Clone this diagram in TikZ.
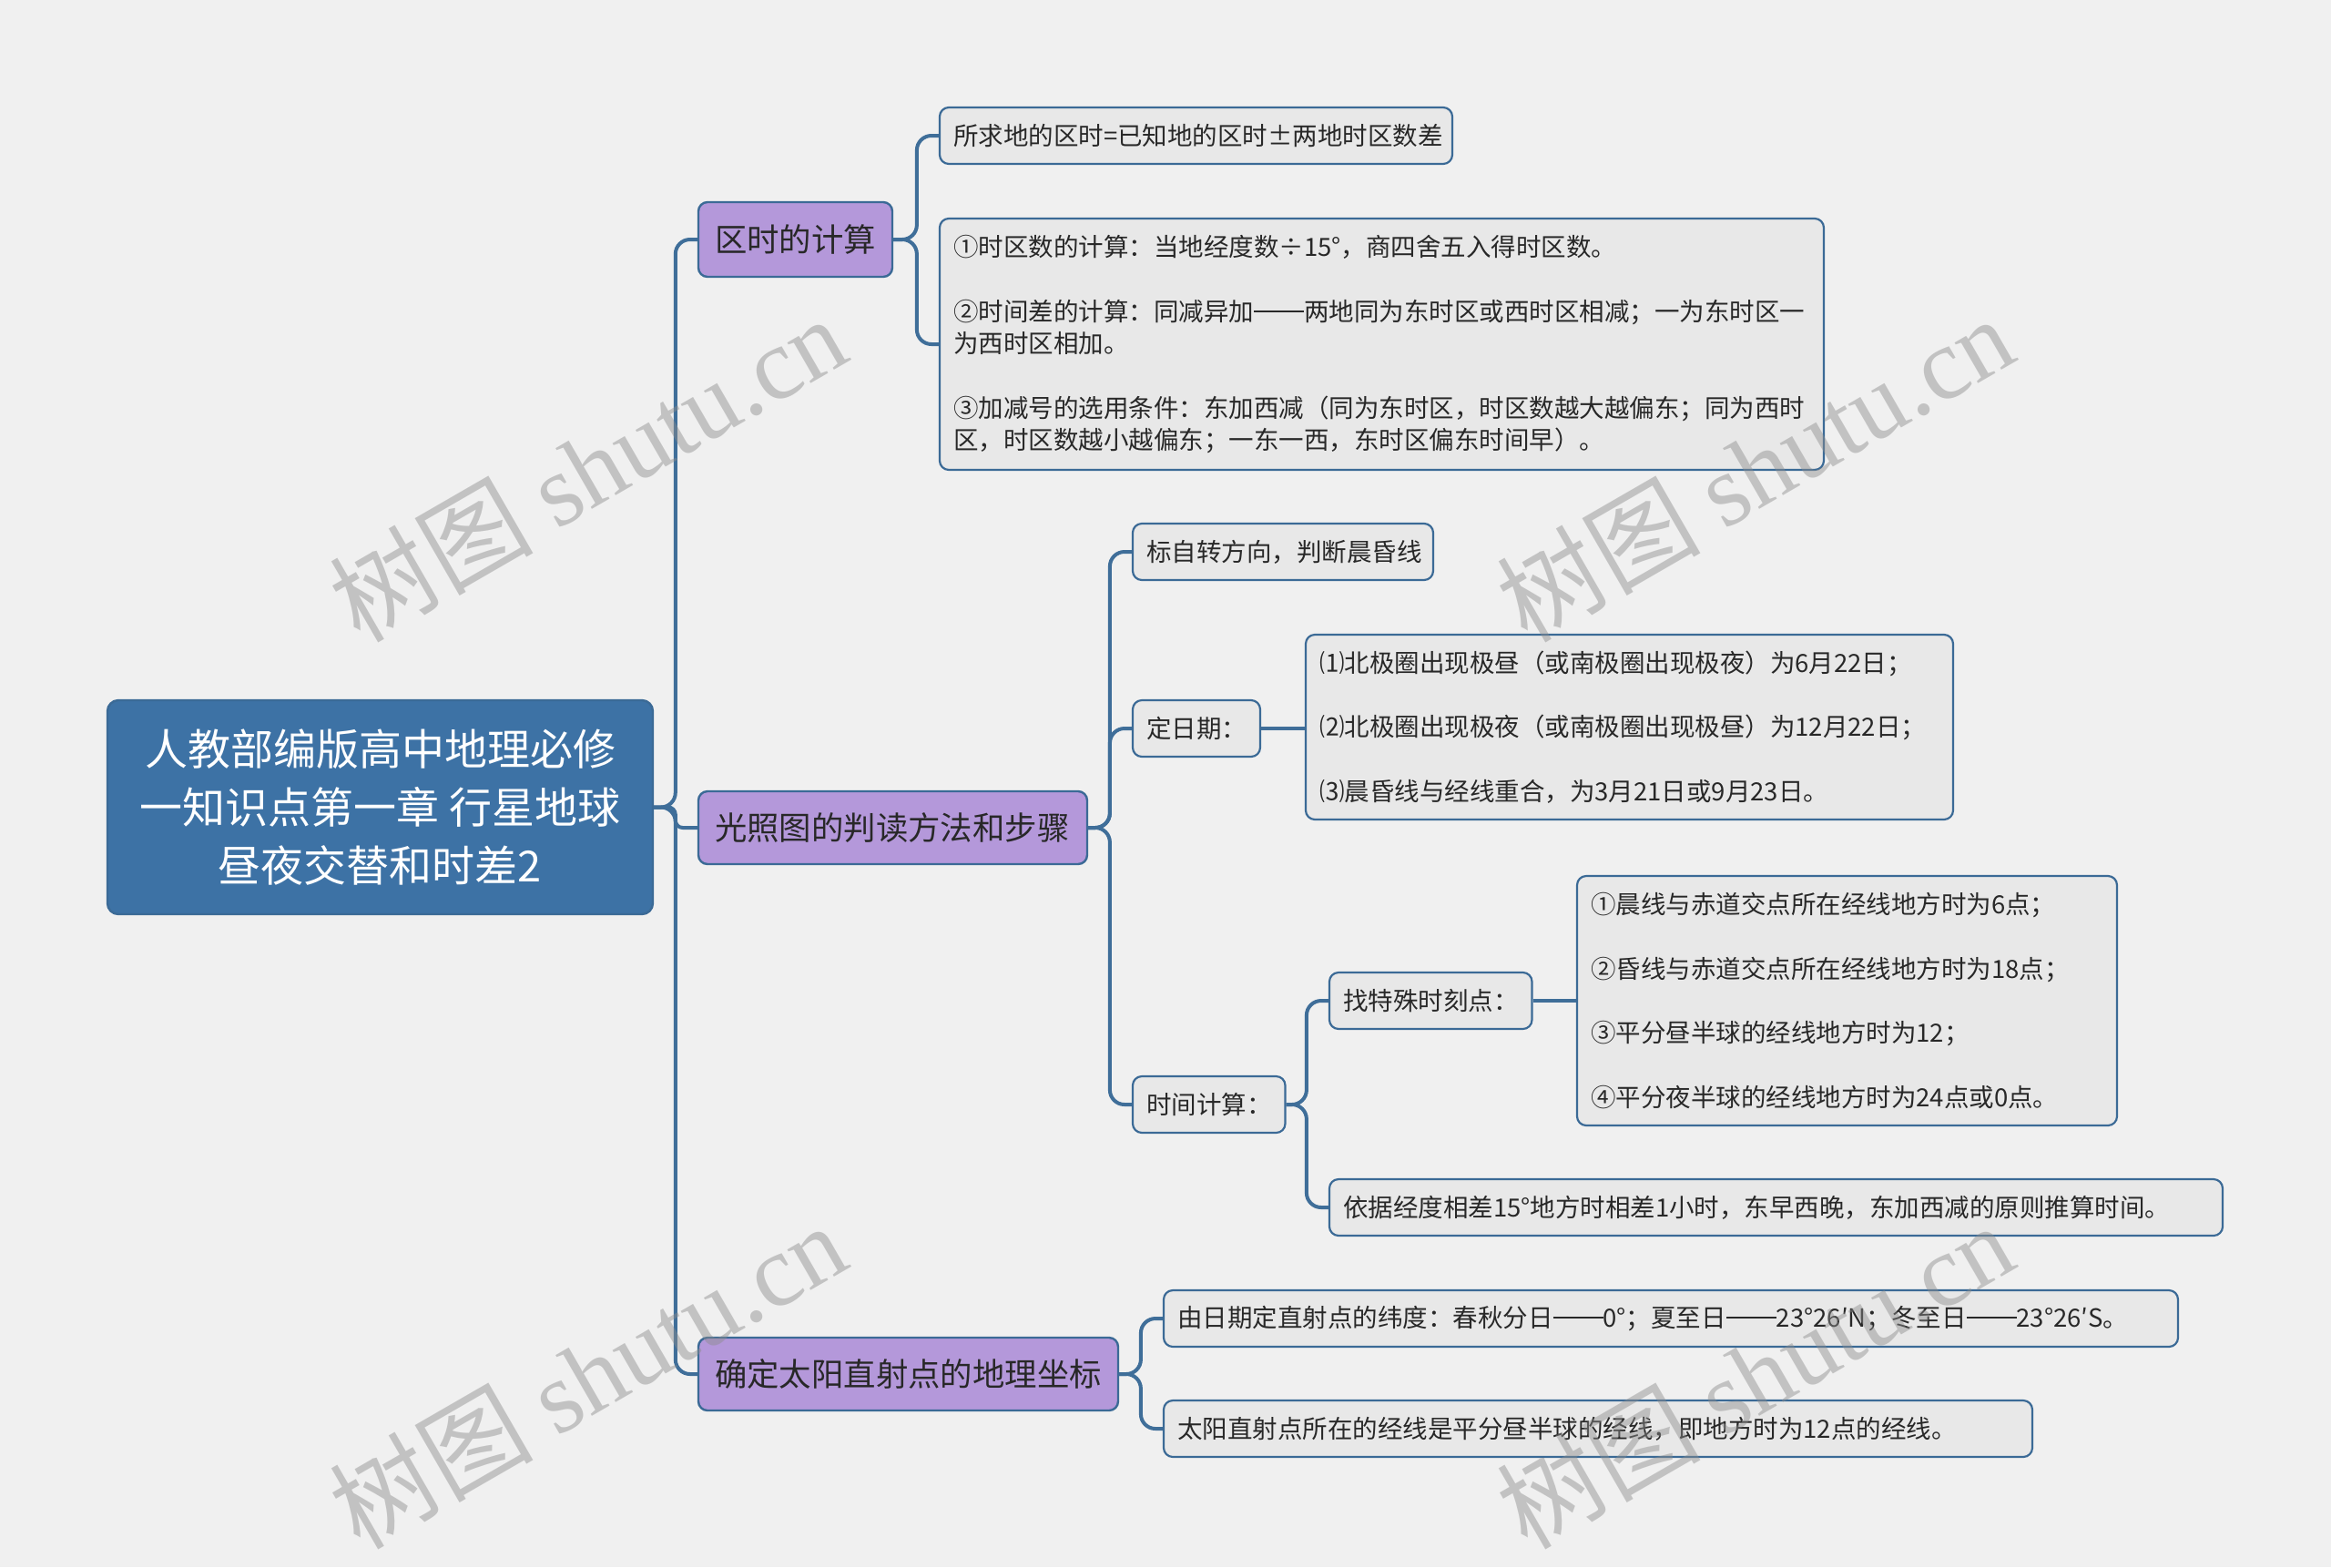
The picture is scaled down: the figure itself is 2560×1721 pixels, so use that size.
\documentclass[tikz,border=0pt]{standalone}
\usepackage{fontspec}
\setmainfont{Noto Sans CJK SC}
\newfontfamily\wmlatin{Liberation Serif}
\newcommand{\ldash}{\rule[0.34em]{2em}{0.06em}}
\definecolor{bgc}{RGB}{240,240,240}
\definecolor{rootc}{RGB}{61,114,165}
\definecolor{purp}{RGB}{180,152,218}
\definecolor{bordc}{RGB}{59,106,150}
\definecolor{linec}{RGB}{63,110,153}
\definecolor{leafc}{RGB}{232,232,232}
\definecolor{txtc}{RGB}{40,40,40}
\definecolor{wmc}{RGB}{140,140,140}
\tikzset{
  rootbox/.style={draw=bordc, line width=1.2pt, fill=rootc, rounded corners=6pt,
    text=white, font=\fontsize{23.5}{32}\selectfont, align=center, inner sep=0pt,
    minimum width=299.5pt, minimum height=117.5pt},
  lonebox/.style={draw=bordc, line width=1.2pt, fill=purp, rounded corners=5pt,
    text=txtc, font=\fontsize{17.7}{22}\selectfont, align=left, inner xsep=9pt, inner ysep=0pt,
    minimum height=40pt},
  leafbox/.style={draw=bordc, line width=1.1pt, fill=leafc, rounded corners=5pt,
    text=txtc, font=\fontsize{13.75}{17.65}\selectfont, align=left, inner xsep=7.5pt, inner ysep=0pt,
    minimum height=31pt},
  conn/.style={draw=linec, line width=2pt, rounded corners=8pt},
  wmark/.style={text=wmc, text opacity=0.45, font=\fontsize{56}{60}\selectfont, rotate=30}
}
\begin{document}
\begin{tikzpicture}[x=0.5pt,y=-0.5pt]
\fill[bgc] (0,0) rectangle (2560,1721);
\useasboundingbox (0,0) rectangle (2560,1721);

% root
\node[rootbox] (root) at (417.5,886.5) {人教部编版高中地理必修\\一知识点第一章 行星地球\\昼夜交替和时差2};

% level 1
\node[lonebox, text width=88.5pt, minimum height=41pt] (la) at (873.5,263) {区时的计算};
\node[lonebox, text width=195.5pt] (lb) at (980.5,909) {光照图的判读方法和步骤};
\node[lonebox, text width=212.5pt] (lc) at (997.5,1509) {确定太阳直射点的地理坐标};

% branch A
\node[leafbox, text width=266.5pt] (a1) at (1313.5,149) {所求地的区时=已知地的区时±两地时区数差};
\node[leafbox, text width=470.5pt, minimum height=138pt] (a2) at (1517.5,378) {①时区数的计算：当地经度数÷15°，商四舍五入得时区数。\\[17.65pt]②时间差的计算：同减异加\ldash 两地同为东时区或西时区相减；一为东时区一\\为西时区相加。\\[17.65pt]③加减号的选用条件：东加西减（同为东时区，时区数越大越偏东；同为西时\\区，时区数越小越偏东；一东一西，东时区偏东时间早）。};

% branch B
\node[leafbox, text width=150pt] (b1) at (1409,606) {标自转方向，判断晨昏线};
\node[leafbox, text width=55pt] (b2) at (1314,800) {定日期：};
\node[leafbox, text width=68.75pt] (b3) at (1327.75,1213) {时间计算：};
\node[leafbox, text width=340.5pt, minimum height=101.5pt] (c1) at (1789.5,798.5) {⑴北极圈出现极昼（或南极圈出现极夜）为6月22日；\\[17.65pt]⑵北极圈出现极夜（或南极圈出现极昼）为12月22日；\\[17.65pt]⑶晨昏线与经线重合，为3月21日或9月23日。};
\node[leafbox, text width=96.25pt] (d1) at (1571.25,1099) {找特殊时刻点：};
\node[leafbox, text width=475.5pt] (d2) at (1950.5,1326) {依据经度相差15°地方时相差1小时，东早西晚，东加西减的原则推算时间。};
\node[leafbox, text width=281.5pt, minimum height=137pt] (e1) at (2028.5,1099) {①晨线与赤道交点所在经线地方时为6点；\\[17.65pt]②昏线与赤道交点所在经线地方时为18点；\\[17.65pt]③平分昼半球的经线地方时为12；\\[17.65pt]④平分夜半球的经线地方时为24点或0点。};

% branch C
\node[leafbox, text width=542pt] (f1) at (1835,1448) {由日期定直射点的纬度：春秋分日\ldash 0°；夏至日\ldash 23°26′N；冬至日\ldash 23°26′S。};
\node[leafbox, text width=462pt] (f2) at (1755,1569) {太阳直射点所在的经线是平分昼半球的经线，即地方时为12点的经线。};

% connectors
\draw[conn] (root.east) -| ([xshift=-12pt]la.west) -- (la.west);
\draw[conn, rounded corners=4pt] (root.east) -| ([xshift=-12pt]lb.west) -- (lb.west);
\draw[conn] (root.east) -| ([xshift=-12pt]lc.west) -- (lc.west);

\draw[conn] (la.east) -| ([xshift=-12pt]a1.west) -- (a1.west);
\draw[conn] (la.east) -| ([xshift=-12pt]a2.west) -- (a2.west);

\draw[conn] (lb.east) -| ([xshift=-12pt]b1.west) -- (b1.west);
\draw[conn] (lb.east) -| ([xshift=-12pt]b2.west) -- (b2.west);
\draw[conn] (lb.east) -| ([xshift=-12pt]b3.west) -- (b3.west);

\draw[conn] (b2.east) -- (b2.east -| c1.west);
\draw[conn] (b3.east) -| ([xshift=-12pt]d1.west) -- (d1.west);
\draw[conn] (b3.east) -| ([xshift=-12pt]d2.west) -- (d2.west);
\draw[conn] (d1.east) -- (d1.east -| e1.west);

\draw[conn] (lc.east) -| ([xshift=-12pt]f1.west) -- (f1.west);
\draw[conn] (lc.east) -| ([xshift=-12pt]f2.west) -- (f2.west);

% watermarks
\node[wmark] (w1) at (645,514) {树图 {\wmlatin shutu.cn}};
\node[wmark] (w2) at (1927,514) {树图 {\wmlatin shutu.cn}};
\node[wmark] (w3) at (645,1510) {树图 {\wmlatin shutu.cn}};
\node[wmark] (w4) at (1927,1510) {树图 {\wmlatin shutu.cn}};
\end{tikzpicture}
\end{document}
